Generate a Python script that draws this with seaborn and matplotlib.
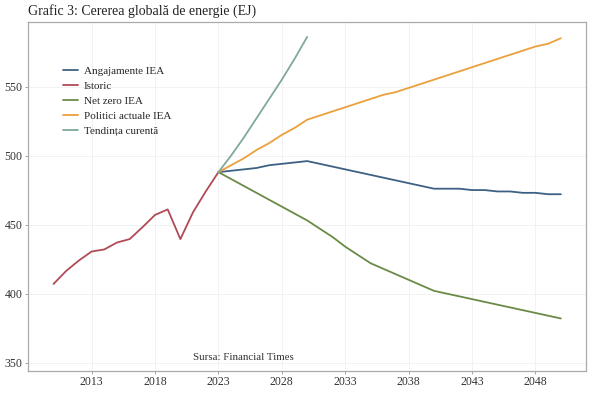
import matplotlib
matplotlib.use("Agg")
import matplotlib.pyplot as plt
import seaborn as sns
import pandas as pd

# historical demand (EJ)
years_hist = list(range(2010, 2024))
istoric = [407, 416.5, 424, 430.5, 432, 437, 439.5, 448, 457, 461, 439.5, 459, 474, 488]

# IEA scenarios 2023-2050
years_proj = list(range(2023, 2051))
angajamente = [488, 489, 490, 491, 493, 494, 495, 496, 494, 492, 490, 488, 486, 484,
               482, 480, 478, 476, 476, 476, 475, 475, 474, 474, 473, 473, 472, 472]
net_zero = [488, 483, 478, 473, 468, 463, 458, 453, 447, 441, 434, 428, 422, 418,
            414, 410, 406, 402, 400, 398, 396, 394, 392, 390, 388, 386, 384, 382]
politici = [488, 493, 498, 504, 509, 515, 520, 526, 529, 532, 535, 538, 541, 544,
            546, 549, 552, 555, 558, 561, 564, 567, 570, 573, 576, 579, 581, 585]

# current trend 2023-2030
years_trend = list(range(2023, 2031))
tendinta = [488, 500, 513, 527, 541, 555, 570, 586]

series = {
    "Angajamente IEA": (years_proj, angajamente),
    "Istoric": (years_hist, istoric),
    "Net zero IEA": (years_proj, net_zero),
    "Politici actuale IEA": (years_proj, politici),
    "Tendința curentă": (years_trend, tendinta),
}
colors = ["#3d6183", "#b04a56", "#6b8a48", "#eba03c", "#80a89c"]

frames = []
for name, (xs, ys) in series.items():
    frames.append(pd.DataFrame({"An": xs, "EJ": ys, "Serie": name}))
df = pd.concat(frames, ignore_index=True)

sns.set_theme(style="whitegrid")
plt.rcParams["font.family"] = ["Liberation Serif", "DejaVu Serif"]

fig = plt.figure(figsize=(6, 4.01), dpi=100)
ax = fig.add_axes([0.047, 0.075, 0.93, 0.871])

sns.lineplot(data=df, x="An", y="EJ", hue="Serie", palette=colors,
             linewidth=1.3, ax=ax)

ax.set_xlim(2008, 2052)
ax.set_ylim(344, 597)
ax.set_xticks([2013, 2018, 2023, 2028, 2033, 2038, 2043, 2048])
ax.set_yticks([350, 400, 450, 500, 550])
ax.set_xlabel("")
ax.set_ylabel("")
ax.tick_params(labelsize=8.5, colors="#333333", length=2.5, width=0.6,
               left=True, bottom=True, pad=1.5)
ax.tick_params(axis="both", color="#999999")
ax.grid(color="#f0f0f0", linewidth=0.6)
for sp in ax.spines.values():
    sp.set_color("#aaaaaa")
    sp.set_linewidth(0.9)

leg = ax.legend(loc="upper left", bbox_to_anchor=(0.045, 0.9), frameon=False,
                fontsize=8, handlelength=1.3, labelspacing=0.45,
                handletextpad=0.55)
for line in leg.get_lines():
    line.set_linewidth(1.3)

ax.text(2021.0, 354, "Sursa: Financial Times", ha="left", va="center",
        fontsize=7.8, color="#333333")

fig.text(0.047, 0.99, "Grafic 3: Cererea globală de energie (EJ)",
         fontsize=10, color="#222222", ha="left", va="top")

fig.savefig("out.png", dpi=100, facecolor="white")
